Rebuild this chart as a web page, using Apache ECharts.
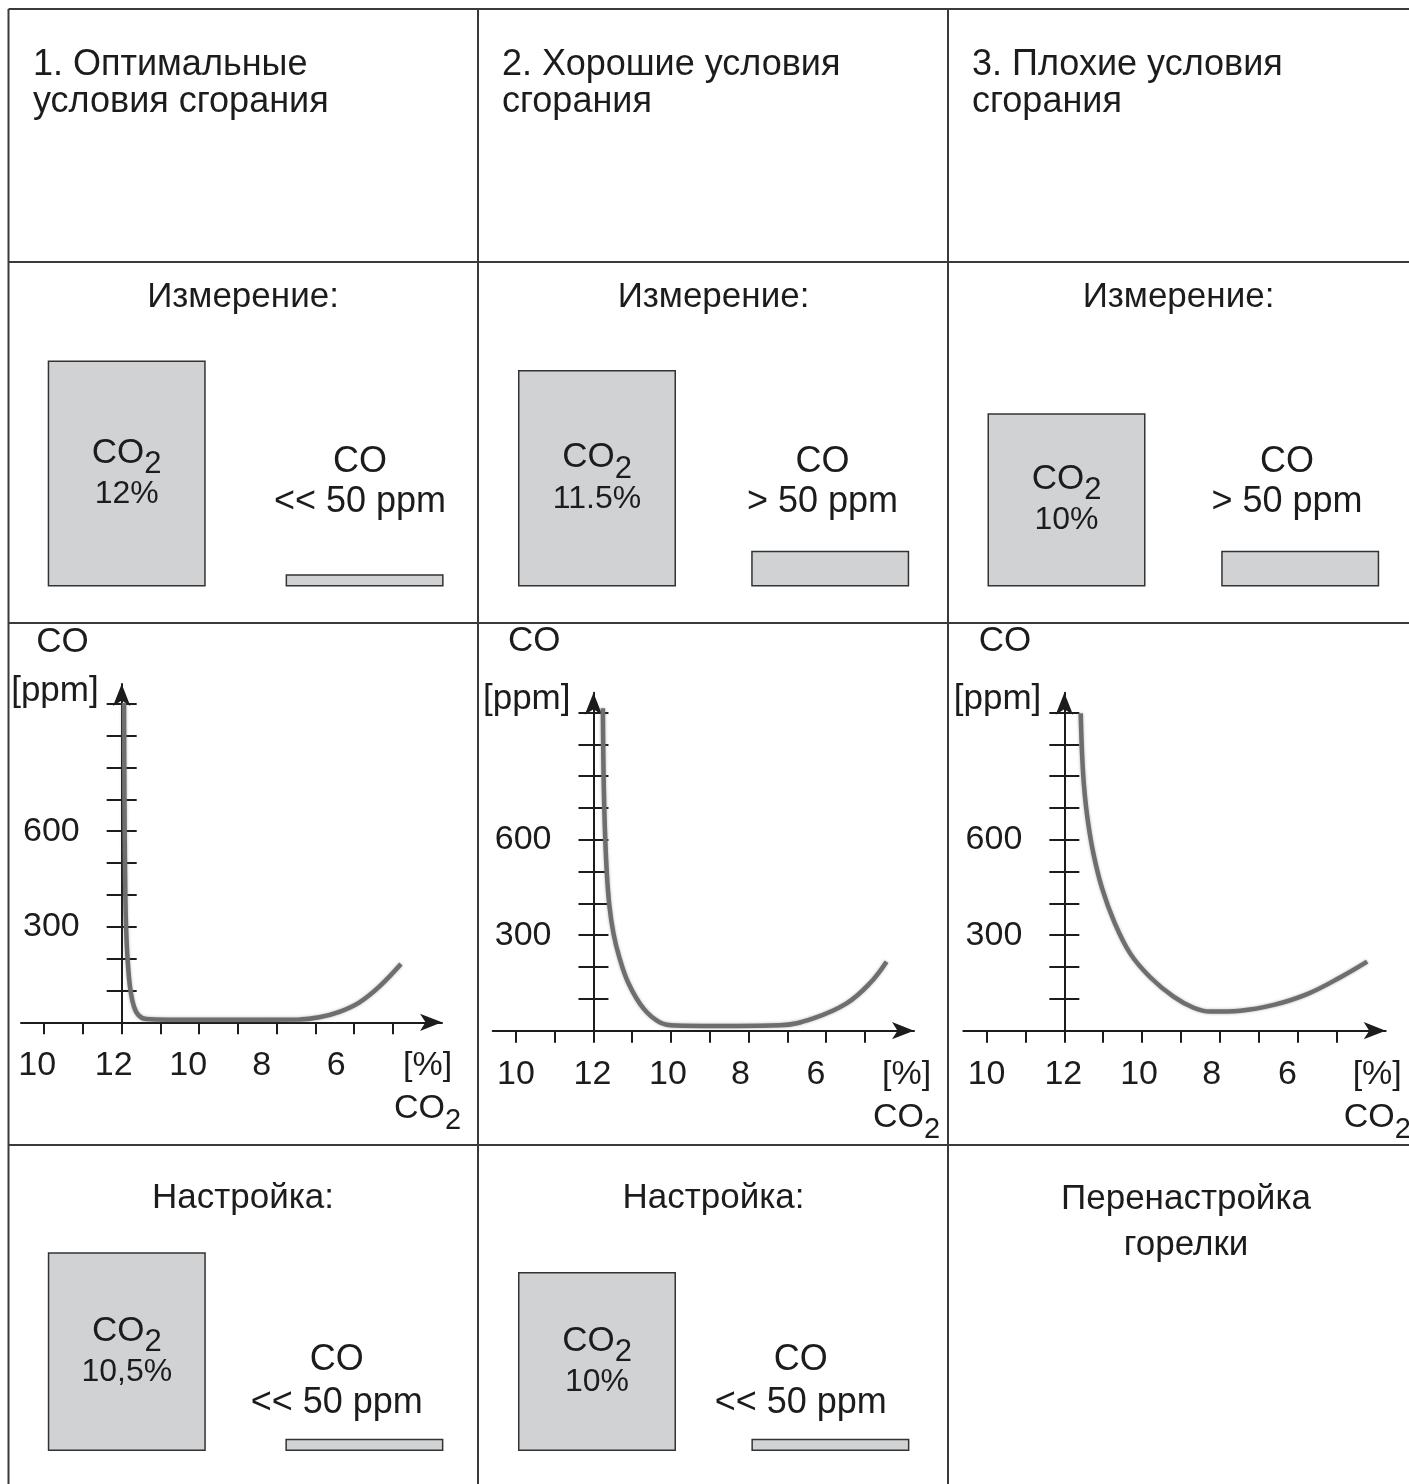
<!DOCTYPE html>
<html>
<head>
<meta charset="utf-8">
<script src="https://cdn.jsdelivr.net/npm/echarts@6/dist/echarts.min.js"></script>
<style>
html,body{margin:0;padding:0;background:#fff;}
#c{width:1409px;height:1484px;}
</style>
</head>
<body>
<div id="c"></div>
<script>
// ================= DATA =================
const columnTitles = ['1. Оптимальные\nусловия сгорания', '2. Хорошие условия\nсгорания', '3. Плохие условия\nсгорания'];
const measureHeader = 'Измерение:';
const tuneHeader = 'Настройка:';
const retuneText = 'Перенастройка\nгорелки';

const barCategories = ['CO2', 'CO'];
// bar heights (relative units, 1 unit ≈ 1 % CO2)
const measureCO2 = [12, 11.5, 9.2];
const measureCO = [0.65, 1.9, 1.9];
const measureCO2Labels = ['12%', '11.5%', '10%'];
const measureCOLabels = ['<< 50 ppm', '> 50 ppm', '> 50 ppm'];
const tuneCO2 = [10.55, 9.5];
const tuneCO = [0.65, 0.65];
const tuneCO2Labels = ['10,5%', '10%'];
const tuneCOLabels = ['<< 50 ppm', '<< 50 ppm'];

// curves: CO2 [%] -> CO [ppm]
const curveOptimalCO2 = [11.94, 11.931, 11.914, 11.897, 11.871, 11.828, 11.768, 11.682, 11.562, 11.364, 10.85, 9.13, 7.41, 6.90, 6.38, 5.87, 5.35, 4.79];
const curveOptimalCO  = [1002, 740, 478, 342, 248, 164, 96, 49, 22, 10, 8, 8, 9, 16, 33, 62, 112, 183];
const curveGoodCO2 = [11.758, 11.741, 11.707, 11.655, 11.587, 11.484, 11.338, 11.097, 10.711, 10.281, 9.851, 9.164, 8.305, 7.188, 6.329, 5.47, 4.869, 4.439];
const curveGoodCO  = [1013, 819, 641, 494, 390, 306, 233, 149, 70, 26, 16, 15, 15, 17, 39, 86, 149, 217];
const curvePoorCO2 = [11.578, 11.544, 11.492, 11.398, 11.252, 11.028, 10.719, 10.307, 9.791, 9.19, 8.674, 8.245, 7.472, 6.613, 5.753, 4.894, 4.207];
const curvePoorCO  = [997, 871, 767, 662, 557, 447, 343, 243, 168, 107, 72, 60, 63, 81, 115, 168, 217];

const xTickCO2 = [14, 13, 12, 11, 10, 9, 8, 7, 6, 5];
const xLabelCO2 = [14, 12, 10, 8, 6];
const xLabelTexts = ['10', '12', '10', '8', '6'];
const xUnitCO2 = 4;            // where "[%] CO2" sits on the axis
const yTickCO = [100, 200, 300, 400, 500, 600, 700, 800, 900, 1000];
const yLabelCO = [300, 600];

// ================= LAYOUT / STYLE =================
const FONT = '"Liberation Sans", Arial, Helvetica, sans-serif';
const INK = '#1c1c1c';
const AXIS_CO2 = 12;           // CO2 value where the CO axis stands
const X_MIN = -2.6, X_MAX = 8.27, Y_MAX = 1062;
const PX_PER_X = 38.8;

const lineGrids = [
  {left: 21, top: 684, width: 421, height: 338.3, shift: [-7, -8, -11, -15, -18], unitShift: -4, nameLine: 58},
  {left: 492.7, top: 692.7, width: 421.3, height: 338, shift: [0, -1, -3, -8, -10], unitShift: 3, nameLine: 76},
  {left: 963.3, top: 692.7, width: 422.4, height: 338, shift: [0, -1, -3, -8, -10], unitShift: 2, nameLine: 76}
];
const curves = [
  {co2: curveOptimalCO2, co: curveOptimalCO},
  {co2: curveGoodCO2, co: curveGoodCO},
  {co2: curvePoorCO2, co: curvePoorCO}
];

const BAR_UNIT_PX = 18.83, BAR_MAX = 15;
const barGrids = [
  {centers: [126.7, 364.6], bottom: 586.5, co2: measureCO2[0], co: measureCO[0], label: measureCO2Labels[0]},
  {centers: [597, 830.2], bottom: 586.5, co2: measureCO2[1], co: measureCO[1], label: measureCO2Labels[1]},
  {centers: [1066.5, 1300.2], bottom: 586.5, co2: measureCO2[2], co: measureCO[2], label: measureCO2Labels[2]},
  {centers: [126.8, 364.4], bottom: 1451, co2: tuneCO2[0], co: tuneCO[0], label: tuneCO2Labels[0]},
  {centers: [597, 830.4], bottom: 1451, co2: tuneCO2[1], co: tuneCO[1], label: tuneCO2Labels[1]}
];

const grid = [], xAxis = [], yAxis = [], series = [];

// ---- line charts ----
lineGrids.forEach((g, i) => {
  grid.push({left: g.left, top: g.top, width: g.width, height: g.height, outerBoundsMode: 'none', containLabel: false});
  const labelPos = xLabelCO2.map((c, k) => AXIS_CO2 - c + g.shift[k] / PX_PER_X);
  const unitPos = AXIS_CO2 - xUnitCO2 + g.unitShift / PX_PER_X;
  const allPos = labelPos.concat([unitPos]);
  xAxis.push({
    type: 'value', gridIndex: i, min: X_MIN, max: X_MAX, position: 'bottom',
    splitLine: {show: false},
    axisLine: {show: true, onZero: false, symbol: ['none', 'arrow'], symbolSize: [13, 22], lineStyle: {color: INK, width: 2}},
    axisTick: {show: true, inside: false, length: 12, customValues: xTickCO2.map(c => AXIS_CO2 - c), lineStyle: {color: INK, width: 2}},
    axisLabel: {
      show: true, margin: 22, customValues: allPos,
      formatter: function (v) {
        let best = 0, bd = 1e9;
        allPos.forEach((p, k) => { const d = Math.abs(p - v); if (d < bd) { bd = d; best = k; } });
        if (best < xLabelTexts.length) return '{t|' + xLabelTexts[best] + '}';
        return '{t|[%]}\n{m|CO}{sb|2}';
      },
      rich: {
        t: {fontSize: 34, lineHeight: 43, fontFamily: FONT, color: INK},
        m: {fontSize: 34, lineHeight: 43, fontFamily: FONT, color: INK},
        sb: {fontSize: 29, lineHeight: 18, padding: [25, 0, 0, 0], fontFamily: FONT, color: INK}
      }
    }
  });
});
function axisOffset(g) { return -(AXIS_CO2 - AXIS_CO2 - X_MIN) / (X_MAX - X_MIN) * g.width; }
// main y axes (outside ticks + labels + name), shifted to CO2 = 12
lineGrids.forEach((g, i) => {
  yAxis.push({
    type: 'value', gridIndex: i, min: 0, max: Y_MAX, position: 'left', offset: axisOffset(g),
    splitLine: {show: false},
    axisLine: {show: true, onZero: false, symbol: ['none', 'arrow'], symbolSize: [13, 22], lineStyle: {color: INK, width: 2}},
    axisTick: {show: true, inside: false, length: 15, customValues: yTickCO, lineStyle: {color: INK, width: 2}},
    axisLabel: {show: true, inside: false, margin: 42, customValues: yLabelCO, formatter: v => String(v), fontSize: 34, fontFamily: FONT, color: INK},
    name: '{n1|CO}\n{n2|[ppm]}', nameLocation: 'end', nameGap: -27, nameMoveOverlap: false,
    nameTextStyle: {
      align: 'right', verticalAlign: 'bottom', padding: [0, 23, 0, 0],
      rich: {
        n1: {fontSize: 35, lineHeight: g.nameLine, padding: [0, 10, 0, 0], fontFamily: FONT, color: INK},
        n2: {fontSize: 35, lineHeight: 40, fontFamily: FONT, color: INK}
      }
    }
  });
});
// secondary y axes (inside ticks, so the ticks cross the axis)
lineGrids.forEach((g, i) => {
  yAxis.push({
    type: 'value', gridIndex: i, min: 0, max: Y_MAX, position: 'left', offset: axisOffset(g),
    splitLine: {show: false},
    axisLine: {show: false, onZero: false},
    axisTick: {show: true, inside: true, length: 15, customValues: yTickCO, lineStyle: {color: INK, width: 2}},
    axisLabel: {show: false}
  });
});
curves.forEach((c, i) => {
  series.push({
    type: 'line', xAxisIndex: i, yAxisIndex: i, silent: true, z: 5,
    data: c.co2.map((v, k) => [AXIS_CO2 - v, c.co[k]]),
    smooth: 0.4, showSymbol: false, symbol: 'none',
    lineStyle: {color: '#6e6e6e', width: 4.5, shadowColor: 'rgba(90,90,90,0.45)', shadowBlur: 3}
  });
});

// ---- bar charts ----
barGrids.forEach((b, j) => {
  const gi = lineGrids.length + j;
  const sp = b.centers[1] - b.centers[0];
  const h = BAR_MAX * BAR_UNIT_PX;
  grid.push({left: b.centers[0] - sp / 2, width: 2 * sp, top: b.bottom - h, height: h, outerBoundsMode: 'none', containLabel: false});
  xAxis.push({type: 'category', gridIndex: gi, data: barCategories, show: false});
  yAxis.push({type: 'value', gridIndex: gi, min: 0, max: BAR_MAX, show: false});
  series.push({
    type: 'bar', xAxisIndex: gi, yAxisIndex: 2 * lineGrids.length + j, silent: true,
    barWidth: 158,
    itemStyle: {color: '#d1d2d4', borderColor: '#333', borderWidth: 1.5},
    data: [
      {value: b.co2, label: {
        show: true, position: 'inside', color: INK, textBorderWidth: 0,
        formatter: function () { return '{m|CO}{sb|2}\n{pc|' + b.label + '}'; },
        rich: {
          m: {fontSize: 35, lineHeight: 41, fontFamily: FONT, color: INK, textBorderWidth: 0},
          sb: {fontSize: 31, lineHeight: 18, padding: [23, 0, 0, 0], fontFamily: FONT, color: INK, textBorderWidth: 0},
          pc: {fontSize: 32, lineHeight: 41, fontFamily: FONT, color: INK, textBorderWidth: 0}
        }
      }},
      {value: b.co, label: {show: false}}
    ]
  });
});

// ---- table lines & static texts ----
const LINE = {stroke: '#3a3a3a', lineWidth: 2};
const graphic = [];
function hline(y, x1, x2) { graphic.push({type: 'line', silent: true, shape: {x1: x1, y1: y, x2: x2, y2: y}, style: LINE}); }
function vline(x, y1, y2) { graphic.push({type: 'line', silent: true, shape: {x1: x, y1: y1, x2: x, y2: y2}, style: LINE}); }
hline(9, 8.5, 1409); hline(262, 8.5, 1409); hline(623, 8.5, 1409); hline(1145, 8.5, 1409);
vline(8.5, 9, 1484); vline(478, 9, 1484); vline(948, 9, 1484);

function text(str, x, y, size, align, lh) {
  graphic.push({type: 'text', silent: true, style: {
    text: str, x: x, y: y, fill: INK, font: size + 'px ' + FONT,
    align: align, textAlign: align, verticalAlign: 'middle', textVerticalAlign: 'middle', lineHeight: lh
  }});
}
const titleX = [33, 502, 972];
columnTitles.forEach((t, i) => text(t, titleX[i], 84, 36, 'left', 37));
const colCenters = [243, 713.5, 1178.5];
colCenters.forEach(cx => text(measureHeader, cx, 297, 35, 'center', 40));
text(tuneHeader, colCenters[0], 1198, 35, 'center', 40);
text(tuneHeader, colCenters[1], 1198, 35, 'center', 40);
text(retuneText, 1186, 1222, 35, 'center', 46);
const measureCOX = [360, 822.5, 1287];
measureCOLabels.forEach((l, i) => text('CO\n' + l, measureCOX[i], 482.5, 36, 'center', 40));
const tuneCOX = [336.8, 800.7];
tuneCOLabels.forEach((l, i) => text('CO\n' + l, tuneCOX[i], 1381.5, 36, 'center', 43));

const chart = echarts.init(document.getElementById('c'), null, {renderer: 'canvas', width: 1409, height: 1484});
chart.setOption({
  animation: false,
  backgroundColor: '#ffffff',
  grid: grid, xAxis: xAxis, yAxis: yAxis, series: series, graphic: graphic
});
</script>
</body>
</html>
